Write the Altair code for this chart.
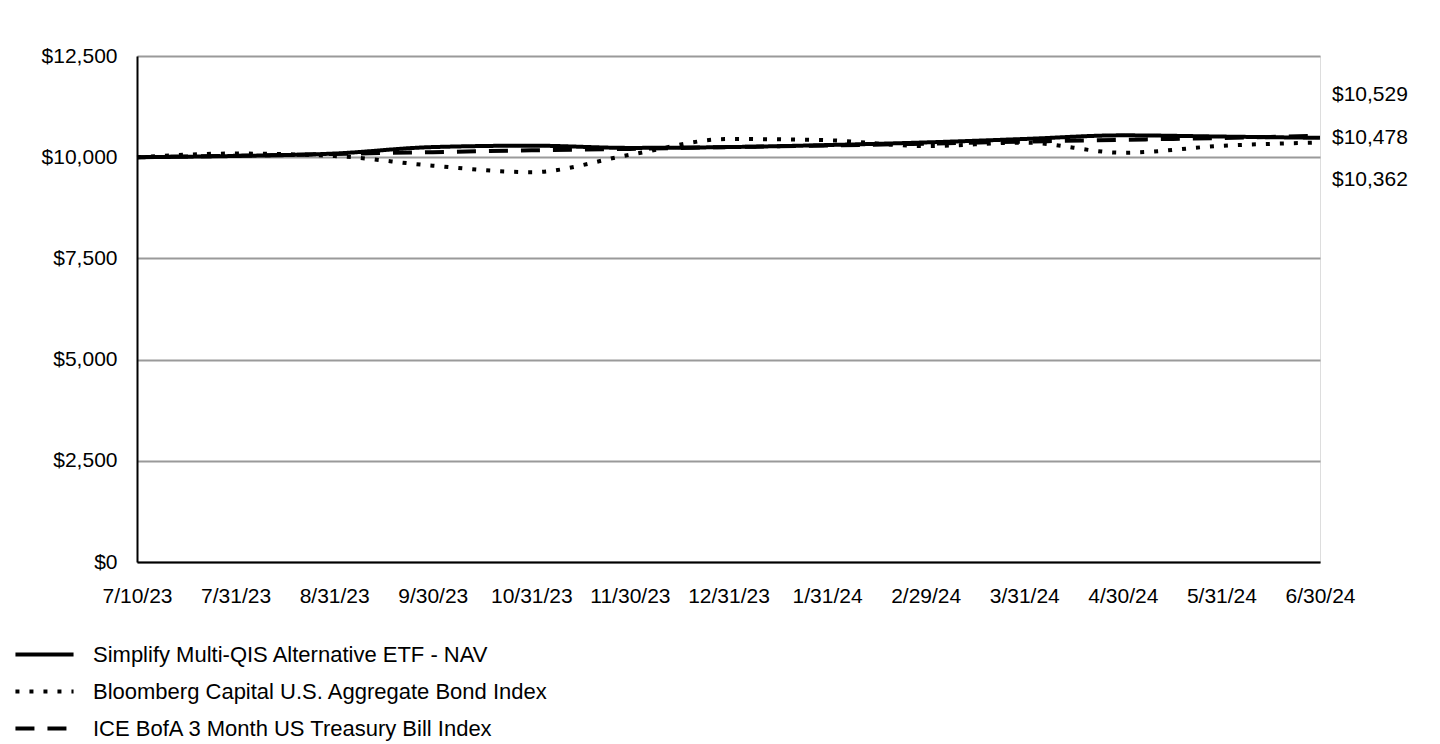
import altair as alt
import pandas as pd

dates = ["7/10/23", "7/31/23", "8/31/23", "9/30/23", "10/31/23", "11/30/23", "12/31/23",
         "1/31/24", "2/29/24", "3/31/24", "4/30/24", "5/31/24", "6/30/24"]
series_names = ["Simplify Multi-QIS Alternative ETF - NAV",
                "Bloomberg Capital U.S. Aggregate Bond Index",
                "ICE BofA 3 Month US Treasury Bill Index"]
nav = [10000, 10030, 10090, 10250, 10285, 10230, 10250, 10300, 10365, 10450, 10540, 10510, 10478]
agg = [10000, 10090, 10030, 9790, 9630, 10060, 10450, 10420, 10275, 10360, 10110, 10280, 10362]
tbill = [10000, 10035, 10080, 10125, 10170, 10205, 10250, 10290, 10335, 10385, 10430, 10475, 10529]
y_ticks = [0, 2500, 5000, 7500, 10000, 12500]

rows = []
for name, vals in zip(series_names, [nav, agg, tbill]):
    for d, v in zip(dates, vals):
        rows.append({"date": d, "series": name, "value": v})
df = pd.DataFrame(rows)

FONT = "Liberation Sans"

x_enc = alt.X("date:N", sort=dates, scale=alt.Scale(type="point", padding=0),
              axis=alt.Axis(title=None, labelAngle=0, labelFontSize=21, labelFont=FONT,
                            labelColor="black", labelPadding=23, ticks=False,
                            domainColor="black", domainWidth=2, grid=False))
y_enc = alt.Y("value:Q", scale=alt.Scale(domain=[0, 12500], nice=False, zero=True),
              axis=alt.Axis(title=None, values=y_ticks, format="$,.0f", labelFontSize=21,
                            labelFont=FONT, labelColor="black", labelPadding=20, ticks=False,
                            domainColor="black", domainWidth=2, grid=True,
                            gridColor="#9a9a9a", gridWidth=2))

lines = alt.Chart(df).mark_line(interpolate="monotone", strokeWidth=4, color="black",
                                strokeCap="butt").encode(
    x=x_enc,
    y=y_enc,
    strokeDash=alt.StrokeDash("series:N",
                              scale=alt.Scale(domain=series_names,
                                              range=[[1, 0], [4, 10], [19, 13]]),
                              legend=alt.Legend(title=None, orient="none", legendX=-114,
                                                legendY=577, direction="vertical",
                                                symbolType="M-1.5,0H1.5", symbolSize=1500,
                                                symbolStrokeWidth=4, symbolStrokeColor="black",
                                                symbolFillColor="transparent",
                                                labelFontSize=22, labelFont=FONT,
                                                labelColor="black", labelOffset=27,
                                                rowPadding=4, labelLimit=800)),
    detail="series:N",
)

last = dates[-1]
label_layers = []
for name, dy in zip(series_names, [0, 37, -41]):
    sub = df[(df["date"] == last) & (df["series"] == name)]
    label_layers.append(
        alt.Chart(sub).mark_text(align="left", baseline="middle", dx=12, dy=dy,
                                 fontSize=21, font=FONT, color="black").encode(
            x=alt.X("date:N", sort=dates),
            y="value:Q",
            text=alt.Text("value:Q", format="$,.0f"),
        )
    )

chart = alt.layer(lines, *label_layers).properties(
    width=1183, height=506,
    autosize=alt.AutoSizeParams(type="none"),
    padding={"left": 137, "top": 56, "right": 120, "bottom": 182},
).configure_view(stroke=None).configure(background="white")

chart.save("out.html", embed_options={"renderer": "svg", "actions": False})
